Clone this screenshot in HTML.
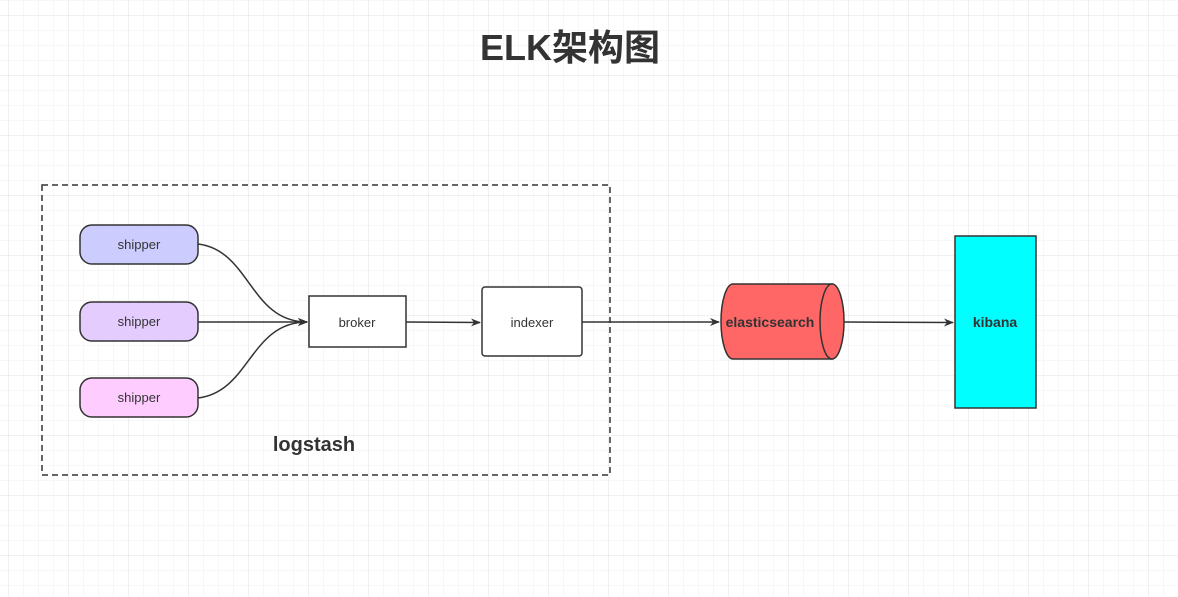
<!DOCTYPE html>
<html><head><meta charset="utf-8"><style>
html,body{margin:0;padding:0;background:#fff}
svg{display:block}
text{font-family:"Liberation Sans","Noto Sans CJK SC",sans-serif}
</style></head><body>
<svg width="1178" height="597" xmlns="http://www.w3.org/2000/svg">
<defs>
<pattern id="g" x="8" y="15" width="15" height="15" patternUnits="userSpaceOnUse"><path d="M0 0H15M0 0V15" stroke="#efefef" stroke-width="1" fill="none"/></pattern>
<pattern id="G" x="8" y="15" width="60" height="60" patternUnits="userSpaceOnUse"><path d="M0 0H60M0 0V60" stroke="#e2e2e2" stroke-width="1" fill="none"/></pattern>
<marker id="a" markerWidth="10" markerHeight="8" refX="9" refY="4" orient="auto" markerUnits="userSpaceOnUse"><path d="M0 0L10 4L0 8L3 4Z" fill="#333"/></marker>
</defs>
<rect width="1178" height="597" fill="url(#g)"/>
<rect width="1178" height="597" fill="url(#G)"/>
<text x="570" y="60" font-size="36" font-weight="bold" fill="#333" text-anchor="middle">ELK架构图</text>
<rect x="42" y="185" width="568" height="290" fill="none" stroke="#333" stroke-width="1.5" stroke-dasharray="6 4"/>
<text x="314" y="451" font-size="20" font-weight="bold" fill="#333" text-anchor="middle">logstash</text>
<g stroke="#333" stroke-width="1.5">
<rect x="80" y="225" width="118" height="39" rx="12" fill="#ccccff"/>
<rect x="80" y="302" width="118" height="39" rx="12" fill="#e5ccff"/>
<rect x="80" y="378" width="118" height="39" rx="12" fill="#ffccff"/>
<rect x="309" y="296" width="97" height="51" fill="#fff"/>
<rect x="482" y="287" width="100" height="69" rx="3" fill="#fff"/>
<rect x="955" y="236" width="81" height="172" fill="#00ffff"/>
<path d="M733 284H832V359H733A12 37.5 0 0 1 733 284Z" fill="#ff6666"/>
<ellipse cx="832" cy="321.5" rx="12" ry="37.5" fill="#ff6666"/>
</g>
<g stroke="#333" stroke-width="1.5" fill="none" marker-end="url(#a)">
<path d="M198 244C250 250 250 322 307 322"/>
<path d="M198 322L307 322"/>
<path d="M198 398C250 392 250 322 307 322"/>
<path d="M406 322L480 322.5"/>
<path d="M582 322L719 322"/>
<path d="M844 322L953 322.5"/>
</g>
<g font-size="13" fill="#333" text-anchor="middle">
<text x="139" y="249">shipper</text>
<text x="139" y="326">shipper</text>
<text x="139" y="402">shipper</text>
<text x="357" y="327">broker</text>
<text x="532" y="327">indexer</text>
</g>
<text x="770" y="327" font-size="14" font-weight="bold" fill="#333" text-anchor="middle">elasticsearch</text>
<text x="995" y="327" font-size="14" font-weight="bold" fill="#333" text-anchor="middle">kibana</text>
</svg>
</body></html>
